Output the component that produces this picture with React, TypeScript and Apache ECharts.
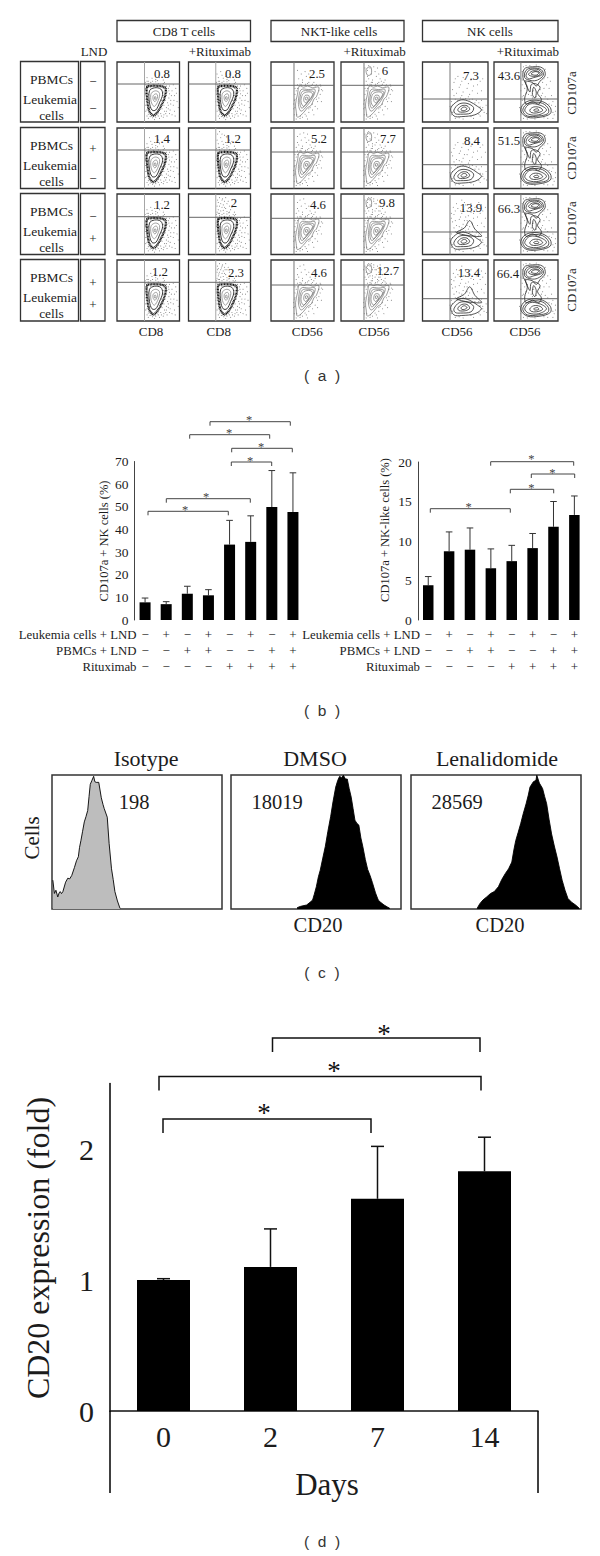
import React, { useEffect, useRef } from "react";
import * as echarts from "echarts";

const SERIF = '"Liberation Serif", serif';
const INK = "#1c1c1c";

// ---------- panel (b) data ----------
const leukemiaLnd = ["−", "+", "−", "+", "−", "+", "−", "+"];
const pbmcLnd = ["−", "−", "+", "+", "−", "−", "+", "+"];
const rituximab = ["−", "−", "−", "−", "+", "+", "+", "+"];
const nkMeans = [7.8, 7.0, 11.6, 10.9, 33.3, 34.5, 49.9, 47.7];
const nkErrTop = [9.7, 8.1, 14.9, 13.4, 44, 46, 66, 65];
const nktMeans = [4.4, 8.7, 8.9, 6.55, 7.45, 9.1, 11.8, 13.3];
const nktErrTop = [5.5, 11.15, 11.65, 9, 9.45, 10.95, 15, 15.7];

// ---------- panel (d) data ----------
const dayLabels = ["0", "2", "7", "14"];
const foldMeans = [1.0, 1.1, 1.62, 1.83];
const foldErrTop = [1.01, 1.39, 2.02, 2.09];

// ---------- panel (c) histograms: [position %, height %] ----------
const isotypeHist = [[0.5, 21.5], [1.4, 11.6], [2.3, 14], [3.4, 9], [4.2, 12], [4.8, 13], [5.6, 11.5], [6.4, 13], [8, 20], [9.3, 23], [10.4, 22.5], [11.6, 25], [13.2, 31], [14.4, 36], [15.5, 39], [16.2, 46], [17, 51], [18, 58], [19, 65], [20, 69], [21, 73.5], [21.8, 84], [22.5, 93], [23.5, 96], [24.5, 99], [25.2, 95], [26, 94.5], [27.5, 94.5], [29, 83], [30, 78], [30.7, 75], [32.5, 68.5], [33.6, 49], [35, 30], [36, 22], [37, 13], [38.5, 6], [40, 0.5]];
const dmsoHist = [[38.9, 1], [41, 2], [44.5, 3], [46.5, 5], [48, 6.7], [49, 11], [50.2, 16.6], [51.4, 24], [52.5, 29], [54, 38], [55.5, 46.8], [57, 58], [58.6, 68.8], [60, 80], [61.6, 91], [62.8, 96], [63.9, 99], [65, 98], [66.1, 99.8], [67.3, 97], [68.4, 97], [69.5, 90], [70.7, 83.5], [71.8, 75], [72.9, 66.3], [74, 64], [75.2, 62.6], [76.4, 53], [77.5, 46.8], [79, 37], [80.4, 29.5], [81.8, 25], [83.2, 19.6], [85, 12], [86.6, 6.7], [88, 5], [90, 3], [92, 1.5], [93.4, 0.5]];
const lenalidomideHist = [[38.9, 0.5], [40.5, 4], [42.3, 6.7], [44.5, 9], [46.8, 11.6], [49, 13], [51.4, 16.6], [53.4, 22], [55.5, 26.5], [57.4, 30], [59.3, 35], [60.5, 44], [61.6, 51], [63, 57], [64.5, 63.6], [66, 71], [67.7, 78.5], [69, 85], [70, 91], [72, 95], [73.5, 96], [74, 99.8], [75.5, 94], [77.4, 89.9], [78.6, 84], [79.8, 78.5], [81.2, 67], [82.7, 56], [84.3, 47], [85.9, 38.8], [87.4, 30], [88.9, 21.5], [90.6, 14], [92.3, 7.9], [94.5, 5], [96.8, 3], [99, 0.5]];

// ---------- panel (a) flow plots ----------
const plotValues = [
  ["0.8", "0.8", "2.5", "6", "7.3", "43.6"],
  ["1.4", "1.2", "5.2", "7.7", "8.4", "51.5"],
  ["1.2", "2", "4.6", "9.8", "13.9", "66.3"],
  ["1.2", "2.3", "4.6", "12.7", "13.4", "66.4"],
];
const plotCols = [[117, 62.5], [188.5, 62], [271, 63], [341, 63], [422.5, 65.5], [494, 64]];
const plotRows = [[62, 122], [128, 188.5], [194, 254.5], [260, 321]];
const quadXPct = [44, 44, 36.5, 36.5, 42, 42];
const quadYPx = [
  [84, 84, 85.3, 85.3, 99, 99],
  [150, 150, 152, 152, 164.7, 164.7],
  [216.7, 217.3, 218.3, 218.3, 232, 232],
  [282.3, 282.3, 285, 285, 298.7, 298.7],
];
const valueLabelPos = [
  [[162, 74], [233, 74], [317, 74], [385, 71], [471, 76], [509, 76]],
  [[162, 139], [233, 139], [319, 139], [388, 139], [472, 141], [509, 141]],
  [[162, 205], [234, 203], [318, 205], [387, 203], [471, 208], [509, 209]],
  [[160, 272], [236, 273], [319, 273], [388, 271], [469, 273], [508, 274]],
];

const cd8Rings = [
  [[48, 58], [55, 60], [66, 60], [77, 57], [77, 44], [72, 30], [65, 17], [58, 11], [52, 18], [49, 32]],
  [[52, 52], [60, 57], [70, 55], [73, 46], [68, 32], [62, 20], [56, 20], [52, 32]],
  [[55, 48], [62, 52], [68, 48], [66, 36], [60, 26], [56, 30], [54, 38]],
  [[58, 44], [63, 47], [65, 42], [61, 34], [58, 37]],
  [[60, 42], [62, 42], [62, 38], [60, 38]],
];
const nktRings = [
  [[45, 60], [52, 58], [58, 60], [66, 57], [76, 58], [72, 42], [68, 38], [64, 28], [58, 24], [52, 16], [42, 8], [40, 18], [39, 30], [42, 46]],
  [[48, 54], [60, 54], [70, 54], [66, 40], [58, 28], [48, 18], [44, 26], [44, 40]],
  [[50, 51], [60, 52], [68, 50], [64, 40], [56, 30], [49, 23], [46, 30], [46, 40]],
  [[52, 48], [62, 50], [66, 46], [60, 36], [52, 26], [48, 32], [48, 40]],
  [[54, 44], [60, 44], [60, 38], [55, 32], [52, 36]],
  [[55, 41], [58, 41], [57, 37], [55, 37]],
];
const nktTopRing = [[40, 88], [47, 92], [48, 80], [42, 78]];
const nkLowRings = [
  [[43, 22], [50, 32], [60, 37], [72, 34], [84, 26], [90, 20], [80, 12], [60, 9], [48, 10]],
  [[48, 20], [56, 30], [68, 31], [78, 24], [74, 15], [58, 13], [50, 14]],
  [[54, 21], [60, 27], [68, 27], [72, 21], [66, 17], [56, 17]],
  [[59, 22], [64, 25], [68, 22], [64, 19], [60, 19]],
];
const nkLowPeakRing = [[52, 36], [64, 44], [72, 56], [80, 42], [90, 30]];
const nkRitRings = [
  [[46, 70], [47, 88], [60, 92], [76, 90], [80, 78], [72, 68], [66, 60], [60, 66], [52, 68]],
  [[48, 74], [50, 86], [60, 90], [74, 87], [77, 78], [68, 70], [58, 69]],
  [[50, 78], [56, 87], [70, 87], [75, 79], [62, 74], [54, 72]],
  [[54, 79], [60, 85], [70, 84], [72, 79], [62, 76]],
  [[58, 80], [64, 84], [70, 82], [66, 78]],
  [[48, 68], [52, 55], [48, 40], [50, 30], [60, 34], [70, 30], [74, 38], [68, 48], [72, 58], [64, 64], [58, 62], [56, 50]],
  [[62, 58], [60, 46], [64, 40], [66, 50]],
  [[42, 18], [46, 30], [58, 36], [76, 34], [88, 24], [88, 14], [72, 8], [52, 8]],
  [[45, 19], [50, 29], [62, 33], [76, 31], [85, 22], [84, 14], [70, 10], [52, 10]],
  [[48, 20], [56, 30], [72, 28], [82, 20], [70, 12], [54, 13]],
  [[56, 20], [62, 25], [72, 24], [76, 19], [66, 15], [58, 16]],
  [[62, 20], [68, 22], [70, 19], [64, 18]],
];

const cd8BandDots = [[47, 60], [49, 61], [51, 62], [53, 62], [56, 62], [59, 62], [61, 62], [64, 62], [67, 62], [69, 61], [72, 60], [75, 60], [78, 59], [79, 56], [79, 52], [79, 48], [78, 44], [76, 40], [75, 36], [74, 32], [72, 28], [70, 24], [68, 20], [66, 15], [64, 12], [61, 10], [58, 9], [55, 10], [53, 13], [51, 16], [50, 20], [49, 24], [48, 28], [47, 34], [47, 38], [47, 42], [46, 48], [47, 52], [46, 56], [50, 58], [54, 57], [72, 58], [74, 56], [75, 50], [74, 44], [71, 36], [69, 28], [63, 15], [56, 14], [52, 24], [50, 36], [50, 46]];
const cd8Dots = [[46, 62], [50, 64], [54, 66], [58, 63], [62, 67], [66, 64], [70, 62], [74, 64], [79, 60], [82, 56], [80, 50], [84, 47], [79, 44], [83, 40], [77, 36], [81, 32], [75, 28], [79, 24], [72, 22], [76, 18], [70, 14], [66, 10], [62, 8], [57, 7], [53, 9], [50, 13], [48, 20], [46, 28], [46, 38], [45, 46], [46, 54], [88, 52], [92, 44], [86, 36], [90, 28], [85, 20], [94, 56], [96, 34], [88, 12], [80, 10], [92, 18], [84, 60], [90, 62], [95, 48], [82, 28], [74, 8], [68, 6], [60, 4], [50, 6], [87, 44], [91, 36], [84, 14], [78, 14], [98, 24], [93, 10], [45, 66], [48, 68], [57, 68], [65, 69], [76, 66], [83, 52], [86, 30], [82, 22], [79, 18], [75, 12], [71, 10], [48, 10], [46, 18], [44, 34], [44, 52]];
const cd8TopDots = [[50, 68], [62, 71], [74, 70], [56, 73], [68, 74], [48, 74], [54, 78], [60, 76], [66, 80], [52, 84], [46, 80], [58, 88], [47, 90], [50, 94], [54, 90], [62, 84], [70, 78], [48, 86], [56, 82], [64, 88], [46, 70], [52, 72], [58, 78], [50, 80], [55, 92], [60, 94], [66, 70], [72, 66], [49, 77], [53, 87], [47, 84], [59, 84], [45, 93], [52, 91], [64, 76], [44, 74]];
const nktDots = [[38, 56], [42, 62], [46, 63], [50, 66], [55, 63], [60, 66], [66, 63], [72, 62], [79, 60], [82, 52], [78, 46], [76, 40], [74, 34], [70, 26], [66, 20], [60, 16], [56, 10], [50, 8], [46, 6], [40, 5], [37, 12], [36, 22], [37, 36], [38, 46], [80, 54], [80, 34], [74, 22], [68, 12], [58, 5], [62, 24], [78, 62], [40, 52], [48, 62], [54, 61], [64, 61], [70, 60], [76, 52], [72, 38], [66, 30], [60, 22], [54, 13], [47, 10], [41, 12], [38, 24], [38, 38], [36, 30], [42, 56], [58, 64], [68, 66]];
const nktTopDots = [[44, 72], [50, 70], [56, 76], [62, 72], [48, 80], [54, 84], [60, 80], [42, 86], [46, 90], [52, 92], [64, 68], [70, 70], [42, 76], [40, 68], [48, 66], [58, 90], [38, 90], [44, 94], [66, 76], [50, 74], [54, 72], [46, 82], [42, 92], [56, 84], [40, 80], [52, 88], [60, 72], [38, 72], [48, 94], [44, 84], [64, 84], [70, 64], [58, 68], [36, 84], [62, 92], [46, 74], [50, 84], [40, 88]];
const nkLowDots = [[44, 34], [50, 38], [58, 40], [66, 39], [76, 38], [86, 32], [92, 24], [94, 16], [88, 10], [78, 6], [62, 5], [50, 6], [44, 12], [97, 28], [90, 36], [98, 14], [82, 36], [70, 42], [60, 44], [48, 44], [54, 36], [62, 38], [72, 37], [80, 32], [88, 25], [92, 20], [86, 13], [74, 9], [56, 7], [46, 16], [42, 26], [46, 28]];
const nkTopDots = [[52, 48], [62, 50], [72, 46], [84, 48], [56, 58], [68, 56], [78, 60], [90, 52], [48, 66], [60, 68], [74, 70], [88, 68], [54, 76], [66, 82], [80, 78], [92, 72], [46, 54], [58, 62], [70, 64], [84, 62], [50, 72], [62, 74], [76, 52], [96, 60], [64, 56], [56, 46], [44, 60], [82, 74], [94, 46], [68, 48], [52, 84], [74, 84], [47, 78], [60, 90], [86, 86], [70, 76], [90, 82], [66, 62], [78, 68], [50, 56], [58, 72], [96, 78], [44, 68], [64, 86], [88, 56], [54, 64]];
const nkRitDots = [[44, 62], [42, 72], [44, 84], [50, 94], [66, 95], [80, 88], [84, 74], [82, 62], [78, 56], [76, 48], [80, 42], [46, 44], [44, 36], [52, 60], [62, 52], [66, 42], [58, 44], [92, 34], [96, 26], [94, 12], [84, 6], [64, 5], [46, 6], [40, 24], [84, 38], [90, 44], [86, 56], [76, 66], [88, 68], [54, 46], [72, 54], [42, 52], [96, 18], [92, 6], [48, 56], [60, 40], [74, 44], [86, 30], [50, 66], [44, 70], [78, 72], [70, 92], [56, 94], [46, 92], [90, 28], [92, 16], [78, 7], [52, 5], [42, 12], [44, 42], [50, 48]];

// ---------- significance brackets: [x1, x2, y, drop, starX, starY] ----------
const bracketsNk = [[210, 290.3, 421.7, 4, 249, 418], [189.7, 269.7, 434.7, 4, 229, 431], [231.7, 292.3, 448.3, 4, 261, 445], [231.3, 271.7, 462, 4, 250, 459], [166.3, 250.3, 498.7, 4, 206, 495.5], [148, 228.3, 511.3, 4, 185, 508]];
const bracketsNkt = [[490.7, 573.7, 461.7, 4, 531.3, 457], [531.3, 574.7, 474, 4, 552.3, 471], [510.3, 553.7, 489.3, 4, 531.3, 486.5], [430.3, 510.3, 508.7, 4, 468.7, 505.5]];
const bracketsFold = [[272.5, 480, 1038, 14, 384, 1031], [159, 481, 1076.6, 14, 334, 1068], [163, 371, 1119, 14, 264, 1110]];

const text = (t: string, x: number, y: number, size: number, o: any = {}) => ({
  type: "text",
  x,
  y,
  rotation: o.rot ? Math.PI / 2 : 0,
  z: 20,
  silent: true,
  style: {
    text: t,
    fontSize: size,
    fontFamily: o.family || SERIF,
    fill: o.fill || INK,
    align: o.align || "center",
    verticalAlign: "middle",
    textAlign: o.align || "center",
    textVerticalAlign: "middle",
  },
});
const box = (x1: number, y1: number, x2: number, y2: number) => ({
  type: "rect",
  z: 15,
  silent: true,
  shape: { x: x1, y: y1, width: x2 - x1, height: y2 - y1 },
  style: { fill: "none", stroke: "#333", lineWidth: 1.3 },
});
const seg = (x1: number, y1: number, x2: number, y2: number, w = 1, c = "#444") => ({
  type: "line",
  z: 15,
  silent: true,
  shape: { x1, y1, x2, y2 },
  style: { stroke: c, lineWidth: w },
});
const bracketGraphics = (list: number[][], w: number, c: string, star: number) =>
  list.flatMap(([a, b, y, d, sx, sy]) => [
    {
      type: "polyline",
      z: 15,
      silent: true,
      shape: { points: [[a, y + d], [a, y], [b, y], [b, y + d]] },
      style: { stroke: c, lineWidth: w, fill: "none" },
    },
    text("*", sx, sy + star * 0.12, star, { fill: c }),
  ]);

function buildOption() {
  const grid: any[] = [];
  const xAxis: any[] = [];
  const yAxis: any[] = [];
  const series: any[] = [];
  const graphic: any[] = [];

  const addRange = (left: number, top: number, width: number, height: number, border = 1.3, xMax = 100) => {
    const i = grid.length;
    grid.push({ left, top, width, height, show: true, borderColor: "#333", borderWidth: border, backgroundColor: "transparent", containLabel: false });
    xAxis.push({ type: "value", gridIndex: i, min: 0, max: xMax, show: false });
    yAxis.push({ type: "value", gridIndex: i, min: 0, max: 100, show: false });
    return i;
  };

  // ---- (a) flow plots
  const ringSets = [cd8Rings, cd8Rings, nktRings, nktRings, nkLowRings, nkRitRings];
  const baseDots = [cd8Dots.concat(cd8BandDots), cd8Dots.concat(cd8BandDots), nktDots, nktDots, nkLowDots, nkRitDots];
  const topDots = [cd8TopDots, cd8TopDots, nktTopDots, nktTopDots, nkTopDots, []];
  const topPerUnit = [7, 14, 3, 3, 3.2, 0];
  plotRows.forEach(([t, b], r) => {
    plotCols.forEach(([l, w], c) => {
      const h = b - t;
      const g = addRange(l, t, w, h);
      const qy = ((b - quadYPx[r][c]) / h) * 100;
      const qx = quadXPct[c];
      const value = parseFloat(plotValues[r][c]);
      const n = Math.round(value * topPerUnit[c]);
      series.push({
        type: "scatter",
        xAxisIndex: g,
        yAxisIndex: g,
        symbolSize: 0.95,
        silent: true,
        itemStyle: { color: "#555" },
        data: baseDots[c].concat(topDots[c].slice(0, n)),
        z: 3,
      });
      let rings = ringSets[c];
      if (c === 3 && value >= 6) rings = rings.concat([nktTopRing]);
      if (c === 4 && value >= 13) rings = rings.concat([nkLowPeakRing]);
      series.push({
        type: "custom",
        xAxisIndex: g,
        yAxisIndex: g,
        silent: true,
        z: 4,
        data: [[0, 0]],
        renderItem: (_: any, api: any) => {
          const children: any[] = [];
          const line = (a: number[], z: number[], col: string) => {
            const p = api.coord(a);
            const q = api.coord(z);
            children.push({ type: "line", shape: { x1: p[0], y1: p[1], x2: q[0], y2: q[1] }, style: { stroke: col, lineWidth: 1 } });
          };
          line([qx, 0], [qx, 100], c < 2 ? "#a6a6a6" : "#777");
          line([0, qy], [100, qy], "#666");
          rings.forEach((ring, ri) => {
            const pts = ring.map((pt) => api.coord(pt));
            let stroke = "#666";
            let lw = 0.65;
            let dash: any = null;
            if (c < 2) {
              if (ri === 0) {
                stroke = "#111";
                lw = 2.1;
                dash = [1, 0.5];
              } else if (ri === 1) {
                stroke = "#222";
                lw = 0.9;
              } else {
                stroke = "#888";
                lw = 0.8;
              }
            } else if (c >= 4) {
              stroke = "#2a2a2a";
              lw = 0.8;
            }
            children.push({
              type: "polygon",
              shape: { points: pts, smooth: 0.35 },
              style: { stroke, lineWidth: lw, fill: "none", lineDash: dash },
            });
          });
          return { type: "group", children };
        },
      });
      const [vx, vy] = valueLabelPos[r][c];
      graphic.push(text(plotValues[r][c], vx, vy, 12.8));
    });
  });

  // (a) frames and labels
  graphic.push(box(117, 20.5, 250.5, 41.5), box(271, 20.5, 404, 41.5), box(422.5, 20.5, 558, 41.5));
  graphic.push(text("CD8 T cells", 184, 31, 13), text("NKT-like cells", 339, 31, 13), text("NK cells", 490, 31, 13));
  graphic.push(text("LND", 94, 51.5, 13));
  [251, 405.7, 559].forEach((x) => graphic.push(text("+Rituximab", x, 51.5, 13, { align: "right" })));
  const signs = [["−", "−"], ["+", "−"], ["−", "+"], ["+", "+"]];
  const signOffsets = [[19, 46], [20, 50], [22, 44], [22, 44]];
  plotRows.forEach(([t, b], r) => {
    graphic.push(box(20.5, t - 0.5, 78.5, b), box(80.5, t - 0.5, 105, b));
    graphic.push(text("PBMCs", 51.5, t + 17, 13.5), text("Leukemia", 50, t + 37, 13.5), text("cells", 51.5, t + 53, 13.5));
    graphic.push(text(signs[r][0], 93, t + signOffsets[r][0], 13), text(signs[r][1], 93, t + signOffsets[r][1], 13));
  });
  [93, 158, 223, 290].forEach((y) => graphic.push(text("CD107a", 571, y, 13, { rot: true })));
  [[151, "CD8"], [218.7, "CD8"], [307.3, "CD56"], [374, "CD56"], [457, "CD56"], [525, "CD56"]].forEach(([x, s]) =>
    graphic.push(text(s as string, x as number, 331, 13)),
  );

  // ---- (b) bar charts
  const catLabels = leukemiaLnd.map((_, i) => `${leukemiaLnd[i]}\n${pbmcLnd[i]}\n${rituximab[i]}`);
  const addBars = (left: number, width: number, top: number, bottom: number, max: number, interval: number, means: number[], errs: number[], cats: string[], barW: number, capW: number, o: any) => {
    const i = grid.length;
    grid.push({ left, top, width, height: bottom - top, show: false });
    xAxis.push({
      type: "category",
      gridIndex: i,
      data: cats,
      axisLine: { show: !!o.xLine, onZero: false, lineStyle: { color: "#111", width: o.axisW } },
      axisTick: { show: false },
      axisLabel: { fontFamily: SERIF, fontSize: o.xFont, color: INK, margin: o.xMargin, lineHeight: o.xLineHeight, interval: 0 },
    });
    yAxis.push({
      type: "value",
      gridIndex: i,
      min: 0,
      max,
      interval,
      splitLine: { show: false },
      axisTick: { show: false },
      axisLine: { show: true, lineStyle: { color: o.axisC, width: o.axisW } },
      axisLabel: {
        fontFamily: SERIF,
        fontSize: o.yFont,
        color: INK,
        margin: o.yMargin,
        formatter: (v: number) => (Number.isInteger(v) && (interval !== 1 || v <= 2) ? String(v) : ""),
      },
    });
    series.push({ type: "bar", xAxisIndex: i, yAxisIndex: i, data: means, barWidth: barW, silent: true, itemStyle: { color: "#000" }, z: 3 });
    series.push({
      type: "custom",
      xAxisIndex: i,
      yAxisIndex: i,
      silent: true,
      z: 2,
      data: means.map((m, k) => [k, m, errs[k]]),
      renderItem: (_: any, api: any) => {
        const k = api.value(0);
        const lo = api.coord([k, api.value(1)]);
        const hi = api.coord([k, api.value(2)]);
        return {
          type: "group",
          children: [
            { type: "line", shape: { x1: lo[0], y1: lo[1], x2: hi[0], y2: hi[1] }, style: { stroke: o.errC, lineWidth: o.errW } },
            { type: "line", shape: { x1: hi[0] - capW, y1: hi[1], x2: hi[0] + capW, y2: hi[1] }, style: { stroke: o.errC, lineWidth: o.errW } },
          ],
        };
      },
    });
  };
  const smallOpts = { xLine: false, axisW: 1, axisC: "#444", xFont: 13, xMargin: 7, xLineHeight: 15.8, yFont: 13.5, yMargin: 6, errC: "#333", errW: 1 };
  addBars(134.5, 169, 461.5, 620, 70, 10, nkMeans, nkErrTop, catLabels, 11, 3.3, smallOpts);
  addBars(417.8, 167, 462, 620, 20, 5, nktMeans, nktErrTop, catLabels, 10.5, 3.3, smallOpts);
  graphic.push(text("CD107a + NK cells (%)", 104, 541, 12.5, { rot: true }), text("CD107a + NK-like cells (%)", 385, 530, 12.5, { rot: true }));
  [[136.5], [420]].forEach(([x]) => {
    graphic.push(text("Leukemia cells + LND", x, 635, 12.8, { align: "right" }), text("PBMCs + LND", x, 650.5, 12.8, { align: "right" }), text("Rituximab", x, 666.5, 12.8, { align: "right" }));
  });
  graphic.push(...bracketGraphics(bracketsNk, 1, "#444", 12.5), ...bracketGraphics(bracketsNkt, 1, "#444", 12.5));

  // ---- (c) histograms
  const histBoxes = [[52, 170, isotypeHist, "#bdbdbd"], [231, 170, dmsoHist, "#000"], [411, 170, lenalidomideHist, "#000"]] as any[];
  histBoxes.forEach(([l, w, d, fill]) => {
    const g = addRange(l, 775, w, 134, 1.5);
    series.push({
      type: "line",
      xAxisIndex: g,
      yAxisIndex: g,
      data: d,
      silent: true,
      symbol: "none",
      lineStyle: { color: "#000", width: 0.9 },
      areaStyle: { color: fill, opacity: 1 },
      z: 3,
    });
  });
  graphic.push(text("Isotype", 146, 758, 22), text("DMSO", 315, 758, 22), text("Lenalidomide", 497, 758, 22));
  graphic.push(text("198", 134, 802, 20.5), text("18019", 277, 802, 20.5), text("28569", 457, 802, 20.5));
  graphic.push(text("CD20", 318, 925, 20.5), text("CD20", 500, 925, 20.5), text("Cells", 32, 838, 21, { rot: true }));

  // ---- (d) fold chart
  addBars(110, 428, 1083.5, 1411, 2.5, 1, foldMeans, foldErrTop, dayLabels, 53, 6.5, {
    xLine: true, axisW: 1.5, axisC: "#000", xFont: 30, xMargin: 10, xLineHeight: 30, yFont: 30, yMargin: 16, errC: "#111", errW: 1.5,
  });
  graphic.push(seg(110, 1411, 110, 1493, 1.5, "#000"), seg(538, 1411, 538, 1493, 1.5, "#000"));
  graphic.push(text("Days", 327, 1484, 31), text("CD20 expression (fold)", 38, 1248, 32, { rot: true }));
  graphic.push(...bracketGraphics(bracketsFold, 1.5, "#111", 27));

  // ---- panel letters
  [["(  a  )", 322, 375], ["(  b  )", 322, 710], ["(  c  )", 322, 972], ["(  d  )", 322, 1541]].forEach(([s, x, y]) =>
    graphic.push(text(s as string, x as number, y as number, 15.5, { family: '"Liberation Sans", sans-serif', fill: "#333" })),
  );

  return { animation: false, backgroundColor: "#fff", grid, xAxis, yAxis, series, graphic };
}

export default function App() {
  const ref = useRef<HTMLDivElement>(null);
  useEffect(() => {
    document.body.style.margin = "0";
    const chart = echarts.init(ref.current!, undefined, { renderer: "svg" });
    chart.setOption(buildOption() as any);
    return () => chart.dispose();
  }, []);
  return <div ref={ref} style={{ width: 600, height: 1556 }} />;
}
